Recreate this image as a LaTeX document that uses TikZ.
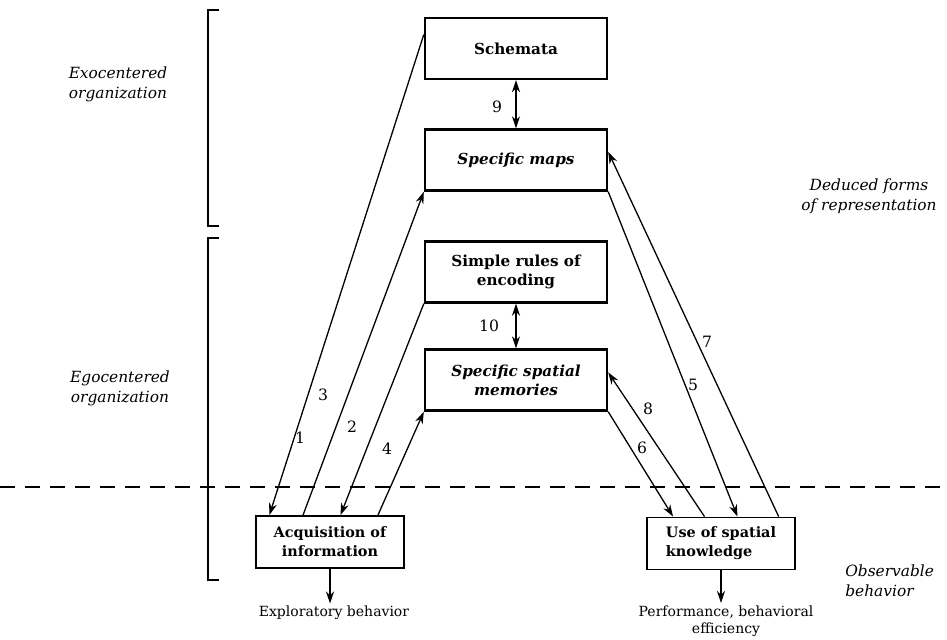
\documentclass[tikz,border=0pt]{standalone}
\usepackage{fontspec}
\setmainfont{DejaVu Serif}
\usetikzlibrary{arrows.meta, calc}
\tikzset{
    stagebox/.style={draw, line width=1.2pt, minimum width=91pt, minimum height=30.5pt,
        align=center, font=\fontsize{7.6}{9.5}\selectfont\bfseries},
    actbox/.style={draw, line width=0.9pt, minimum width=74pt, minimum height=26pt,
        font=\fontsize{7.2}{9.5}\selectfont\bfseries},
    numlabel/.style={font=\fontsize{7.8}{9}\selectfont, inner sep=1pt},
    sidelabel/.style={font=\fontsize{7.7}{10}\selectfont\itshape, align=center},
    outlabel/.style={font=\fontsize{7}{8.5}\selectfont, align=center, inner sep=1pt}
}

\begin{document}
\begin{tikzpicture}[x=0.5pt, y=-0.5pt, >={Stealth[length=6pt, width=4pt]}, line width=0.65pt]
        \useasboundingbox (0,0) rectangle (947,639);

        % Nodes
        \node[stagebox] (schemata) at (516, 48.5) {Schemata};
        \node[stagebox] (maps) at (516, 160) {\itshape Specific maps};
        \node[stagebox] (rules) at (516, 272) {Simple rules of\\encoding};
        \node[stagebox] (memories) at (516, 380) {\itshape Specific spatial\\\itshape memories};
        \node[actbox, align=center] (acq) at (330, 542) {Acquisition of\\information};
        \node[actbox, align=left] (use) at (721, 543.5) {Use of spatial\\knowledge};
        \node[outlabel] (explore) at (334, 613) {Exploratory behavior};
        \node[outlabel] (perform) at (726, 621) {Performance, behavioral\\efficiency};

        % Side labels
        \node[sidelabel] (exo) at (118, 84) {Exocentered\\organization};
        \node[sidelabel] (ego) at (120, 388) {Egocentered\\organization};
        \node[sidelabel] (deduced) at (869, 196) {Deduced forms\\of representation};
        \node[sidelabel, align=left, anchor=west] (observe) at (838, 581) {Observable\\behavior};

        % Brackets and boundary
        \draw[line width=0.7pt] (219, 10) -- (208, 10) -- (208, 226) -- (219, 226);
        \draw[line width=0.7pt] (219, 238) -- (208, 238) -- (208, 580) -- (219, 580);
        \draw[line width=0.7pt, dash pattern=on 7.5pt off 5pt] (0, 487) -- (947, 487);

        % Directed edges
        \draw[<->] (schemata.south) -- (maps.north);
        \draw[<->] (rules.south) -- (memories.north);
        \draw[->] ($(schemata.north west)!0.28!(schemata.south west)$) -- ($(acq.north west)!0.095!(acq.north east)$);
        \draw[->] ($(acq.north west)!0.32!(acq.north east)$) -- (maps.south west);
        \draw[->] (rules.south west) -- ($(acq.north west)!0.57!(acq.north east)$);
        \draw[->] ($(acq.north west)!0.82!(acq.north east)$) -- (memories.south west);
        \draw[->] (maps.south east) -- ($(use.north west)!0.61!(use.north east)$);
        \draw[->] (memories.south east) -- ($(use.north west)!0.18!(use.north east)$);
        \draw[->] ($(use.north west)!0.885!(use.north east)$) -- ($(maps.north east)!0.37!(maps.south east)$);
        \draw[->] ($(use.north west)!0.39!(use.north east)$) -- ($(memories.north east)!0.38!(memories.south east)$);
        \draw[->] (acq.south) -- (acq.south |- explore.north);
        \draw[->] (use.south) -- (use.south |- perform.north);

        % Edge numbers
        \node[numlabel] (l1) at (300, 438) {1};
        \node[numlabel] (l2) at (352, 427) {2};
        \node[numlabel] (l3) at (323, 395) {3};
        \node[numlabel] (l4) at (387, 449) {4};
        \node[numlabel] (l5) at (693, 385) {5};
        \node[numlabel] (l6) at (642, 448) {6};
        \node[numlabel] (l7) at (707, 342) {7};
        \node[numlabel] (l8) at (648, 409) {8};
        \node[numlabel] (l9) at (497, 107) {9};
        \node[numlabel] (l10) at (489, 326) {10};
    \end{tikzpicture}
\end{document}
